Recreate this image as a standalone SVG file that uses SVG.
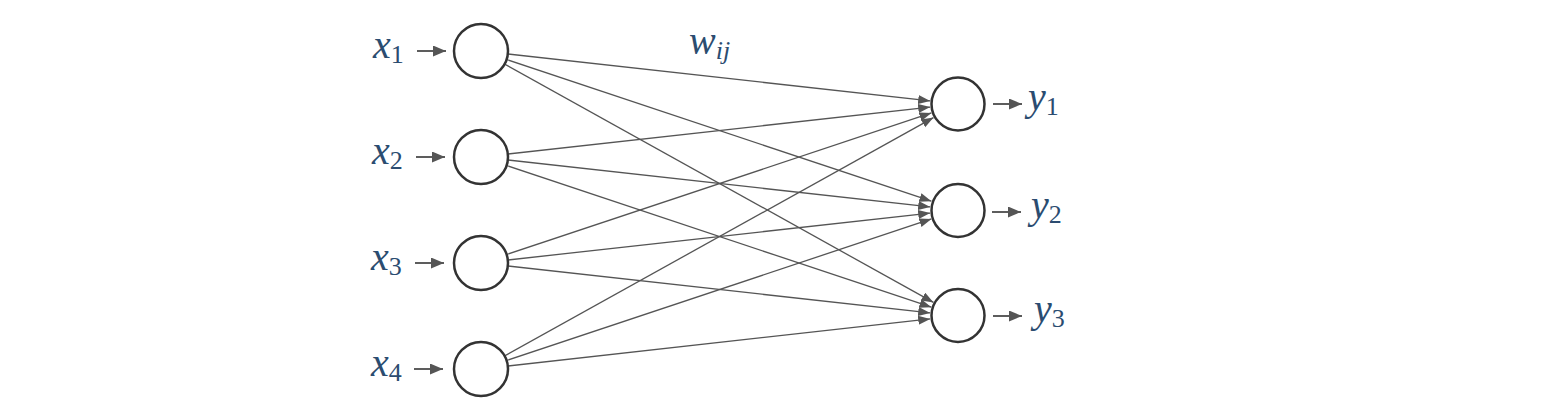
<svg xmlns="http://www.w3.org/2000/svg" width="1550" height="415" viewBox="0 0 1550 415">
<style>
.node{fill:#fff;stroke:#333;stroke-width:2.5}
.edge{stroke:#555;stroke-width:1.3;fill:none;marker-end:url(#ah)}
.io{stroke:#555;stroke-width:1.9;fill:none;marker-end:url(#ah2)}
.lbl{fill:#2b4c70;font-family:'Liberation Serif','DejaVu Serif',serif;font-style:italic;font-size:40px}
.sub{font-style:normal;font-size:26px}
.subi{font-style:italic;font-size:26px}
</style>
<defs>
<marker id="ah" markerUnits="userSpaceOnUse" markerWidth="13" markerHeight="10" refX="12" refY="4.5" orient="auto">
<path d="M0,0 L12,4.5 L0,9 z" fill="#555"/>
</marker>
<marker id="ah2" markerUnits="userSpaceOnUse" markerWidth="14" markerHeight="12" refX="13" refY="5.5" orient="auto">
<path d="M0,0 L13,5.5 L0,11 z" fill="#555"/>
</marker>
</defs>
<rect width="1550" height="415" fill="#fff"/>
<g id="connectors">
<line class="edge" x1="507.8" y1="54.0" x2="930.2" y2="100.9"/>
<line class="edge" x1="506.6" y1="59.5" x2="931.4" y2="201.2"/>
<line class="edge" x1="504.6" y1="64.1" x2="933.5" y2="302.4"/>
<line class="edge" x1="507.8" y1="154.0" x2="930.2" y2="107.1"/>
<line class="edge" x1="507.8" y1="160.0" x2="930.2" y2="206.9"/>
<line class="edge" x1="506.6" y1="165.5" x2="931.4" y2="307.2"/>
<line class="edge" x1="506.6" y1="254.5" x2="931.4" y2="112.9"/>
<line class="edge" x1="507.8" y1="260.0" x2="930.2" y2="213.1"/>
<line class="edge" x1="507.8" y1="266.0" x2="930.2" y2="312.9"/>
<line class="edge" x1="504.6" y1="355.9" x2="933.5" y2="117.6"/>
<line class="edge" x1="506.6" y1="360.5" x2="931.4" y2="218.9"/>
<line class="edge" x1="507.8" y1="366.0" x2="930.2" y2="318.9"/>
<line class="io" x1="417" y1="51" x2="446" y2="51"/>
<line class="io" x1="416" y1="157" x2="445" y2="157"/>
<line class="io" x1="415" y1="263" x2="444" y2="263"/>
<line class="io" x1="414" y1="369" x2="443" y2="369"/>
<line class="io" x1="993" y1="104" x2="1022" y2="104"/>
<line class="io" x1="992" y1="212" x2="1021" y2="212"/>
<line class="io" x1="993" y1="316" x2="1022" y2="316"/>
</g>
<g id="x1"><circle class="node" cx="481" cy="51" r="27"/><text class="lbl" x="373" y="58">x<tspan class="sub" dy="5">1</tspan></text></g>
<g id="x2"><circle class="node" cx="481" cy="157" r="27"/><text class="lbl" x="372" y="164">x<tspan class="sub" dy="5">2</tspan></text></g>
<g id="x3"><circle class="node" cx="481" cy="263" r="27"/><text class="lbl" x="371" y="270">x<tspan class="sub" dy="5">3</tspan></text></g>
<g id="x4"><circle class="node" cx="481" cy="369" r="27"/><text class="lbl" x="371" y="376">x<tspan class="sub" dy="5">4</tspan></text></g>
<g id="y1"><circle class="node" cx="958" cy="104" r="26.5"/><text class="lbl" x="1028" y="110">y<tspan class="sub" dy="5">1</tspan></text></g>
<g id="y2"><circle class="node" cx="958" cy="210.5" r="26.5"/><text class="lbl" x="1031" y="218">y<tspan class="sub" dy="5">2</tspan></text></g>
<g id="y3"><circle class="node" cx="958" cy="315.5" r="26.5"/><text class="lbl" x="1034" y="322">y<tspan class="sub" dy="5">3</tspan></text></g>
<g id="wij"><text class="lbl" x="689" y="54">w<tspan class="subi" dy="5">ij</tspan></text></g>
</svg>
